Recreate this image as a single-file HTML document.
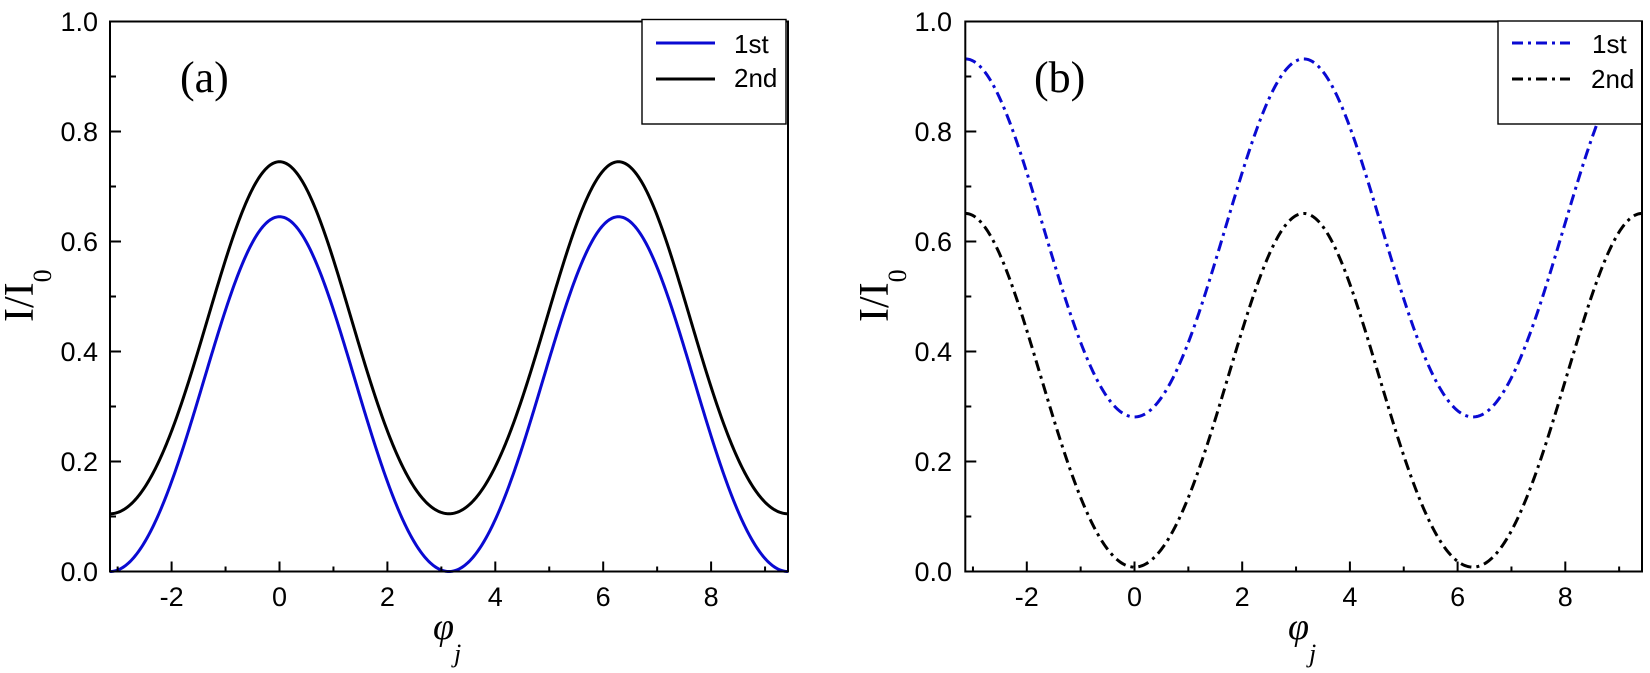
<!DOCTYPE html>
<html>
<head>
<meta charset="utf-8">
<style>
  html, body { margin: 0; padding: 0; background: #fff; }
  svg { display: block; }
  .tick { font-family: "Liberation Sans", Arial, sans-serif; font-size: 27px; fill: #000; }
  .leg { font-family: "Liberation Sans", Arial, sans-serif; font-size: 26px; fill: #000; }
  .serif { font-family: "Liberation Serif", "Times New Roman", serif; fill: #000; }
</style>
</head>
<body>
<svg id="chart" width="1650" height="673" viewBox="0 0 1650 673" xmlns="http://www.w3.org/2000/svg">
  <rect x="0" y="0" width="1650" height="673" fill="#fff"/>

  <!-- Panel (a) -->
  <g id="pa">
    <path id="a1" fill="none" stroke="#0a0ad2" stroke-width="3" d=""/>
    <path id="a2" fill="none" stroke="#000" stroke-width="3" d=""/>
    <rect x="110" y="21.5" width="678" height="550" fill="none" stroke="#000" stroke-width="2"/>
    <g id="ta" stroke="#000" stroke-width="2"></g>
    <text class="tick" text-anchor="end" x="98" y="581">0.0</text>
    <text class="tick" text-anchor="end" x="98" y="471">0.2</text>
    <text class="tick" text-anchor="end" x="98" y="361">0.4</text>
    <text class="tick" text-anchor="end" x="98" y="251">0.6</text>
    <text class="tick" text-anchor="end" x="98" y="141">0.8</text>
    <text class="tick" text-anchor="end" x="98" y="31">1.0</text>
    <text class="tick" text-anchor="middle" x="171.6" y="606">-2</text>
    <text class="tick" text-anchor="middle" x="279.5" y="606">0</text>
    <text class="tick" text-anchor="middle" x="387.4" y="606">2</text>
    <text class="tick" text-anchor="middle" x="495.3" y="606">4</text>
    <text class="tick" text-anchor="middle" x="603.2" y="606">6</text>
    <text class="tick" text-anchor="middle" x="711.1" y="606">8</text>
    <text class="serif" font-size="42" transform="translate(33,322) rotate(-90)">I/I<tspan dy="18" font-size="26">0</tspan></text>
    <text class="serif" font-style="italic" font-size="38" x="433" y="639">φ<tspan dy="23" font-size="26">j</tspan></text>
    <text class="serif" font-size="44" x="180" y="92">(a)</text>
    <rect x="642" y="19.5" width="144" height="104.5" fill="#fff" stroke="#000" stroke-width="1.4"/>
    <line x1="656" y1="43" x2="715" y2="43" stroke="#0a0ad2" stroke-width="3"/>
    <line x1="656" y1="79" x2="715" y2="79" stroke="#000" stroke-width="3"/>
    <text class="leg" x="734" y="53">1st</text>
    <text class="leg" x="734" y="87">2nd</text>
    <line x1="788" y1="20.5" x2="788" y2="572.5" stroke="#000" stroke-width="2"/>
  </g>

  <!-- Panel (b) -->
  <g id="pb">
    <path id="b1" fill="none" stroke="#0a0ad2" stroke-width="3" stroke-dasharray="11 5 3 5" d=""/>
    <path id="b2" fill="none" stroke="#000" stroke-width="3" stroke-dasharray="11 5 3 5" d=""/>
    <rect x="965.3" y="21.5" width="676.7" height="550" fill="none" stroke="#000" stroke-width="2"/>
    <g id="tb" stroke="#000" stroke-width="2"></g>
    <text class="tick" text-anchor="end" x="952" y="581">0.0</text>
    <text class="tick" text-anchor="end" x="952" y="471">0.2</text>
    <text class="tick" text-anchor="end" x="952" y="361">0.4</text>
    <text class="tick" text-anchor="end" x="952" y="251">0.6</text>
    <text class="tick" text-anchor="end" x="952" y="141">0.8</text>
    <text class="tick" text-anchor="end" x="952" y="31">1.0</text>
    <text class="tick" text-anchor="middle" x="1026.8" y="606">-2</text>
    <text class="tick" text-anchor="middle" x="1134.5" y="606">0</text>
    <text class="tick" text-anchor="middle" x="1242.2" y="606">2</text>
    <text class="tick" text-anchor="middle" x="1349.9" y="606">4</text>
    <text class="tick" text-anchor="middle" x="1457.6" y="606">6</text>
    <text class="tick" text-anchor="middle" x="1565.3" y="606">8</text>
    <text class="serif" font-size="42" transform="translate(888,322) rotate(-90)">I/I<tspan dy="18" font-size="26">0</tspan></text>
    <text class="serif" font-style="italic" font-size="38" x="1288" y="639">φ<tspan dy="23" font-size="26">j</tspan></text>
    <text class="serif" font-size="44" x="1034" y="92">(b)</text>
    <rect x="1498" y="21" width="144" height="103" fill="#fff" stroke="#000" stroke-width="1.4"/>
    <line x1="1512" y1="43" x2="1570" y2="43" stroke="#0a0ad2" stroke-width="3" stroke-dasharray="11 5 3 5"/>
    <line x1="1512" y1="79" x2="1570" y2="79" stroke="#000" stroke-width="3" stroke-dasharray="11 5 3 5"/>
    <text class="leg" x="1592" y="53">1st</text>
    <text class="leg" x="1591" y="88">2nd</text>
    <line x1="1642" y1="20.5" x2="1642" y2="572.5" stroke="#000" stroke-width="2"/>
  </g>
</svg>
<script>
(function(){
  var PI = Math.PI;
  function Y(I){ return 571.5 - 550*I; }
  function build(id, x0, sc, f){
    var N = 600, d = '';
    for (var i=0;i<=N;i++){
      var p = -PI + 4*PI*i/N;
      var x = x0 + sc*p, y = Y(f(p));
      d += (i? 'L':'M') + x.toFixed(2) + ' ' + y.toFixed(2) + ' ';
    }
    document.getElementById(id).setAttribute('d', d);
  }
  build('a1', 279.5, 53.95, function(p){ return 0.3075 + 0.3225*Math.cos(p) + 0.015*Math.cos(2*p); });
  build('a2', 279.5, 53.95, function(p){ return 0.403 + 0.32*Math.cos(p) + 0.022*Math.cos(2*p); });
  build('b1', 1134.5, 53.85, function(p){ return 0.5965 - 0.3255*Math.cos(p) + 0.01*Math.cos(2*p); });
  build('b2', 1134.5, 53.85, function(p){ return 0.3145 - 0.3215*Math.cos(p) + 0.015*Math.cos(2*p); });
  function ticks(gid, left, x0, sc){
    var g = document.getElementById(gid), s = '';
    for (var k=-3;k<=9;k++){
      var x = x0 + sc*k, len = (k%2===0)? 10 : 5;
      s += '<line x1="'+x+'" y1="571.5" x2="'+x+'" y2="'+(571.5-len)+'"/>';
    }
    for (var j=1;j<10;j++){
      var y = Y(j/10), l2 = (j%2===0)? 11 : 6;
      s += '<line x1="'+left+'" y1="'+y+'" x2="'+(left+l2)+'" y2="'+y+'"/>';
    }
    g.innerHTML = s;
  }
  ticks('ta', 110, 279.5, 53.95);
  ticks('tb', 965.3, 1134.5, 53.85);
})();
</script>
</body>
</html>
